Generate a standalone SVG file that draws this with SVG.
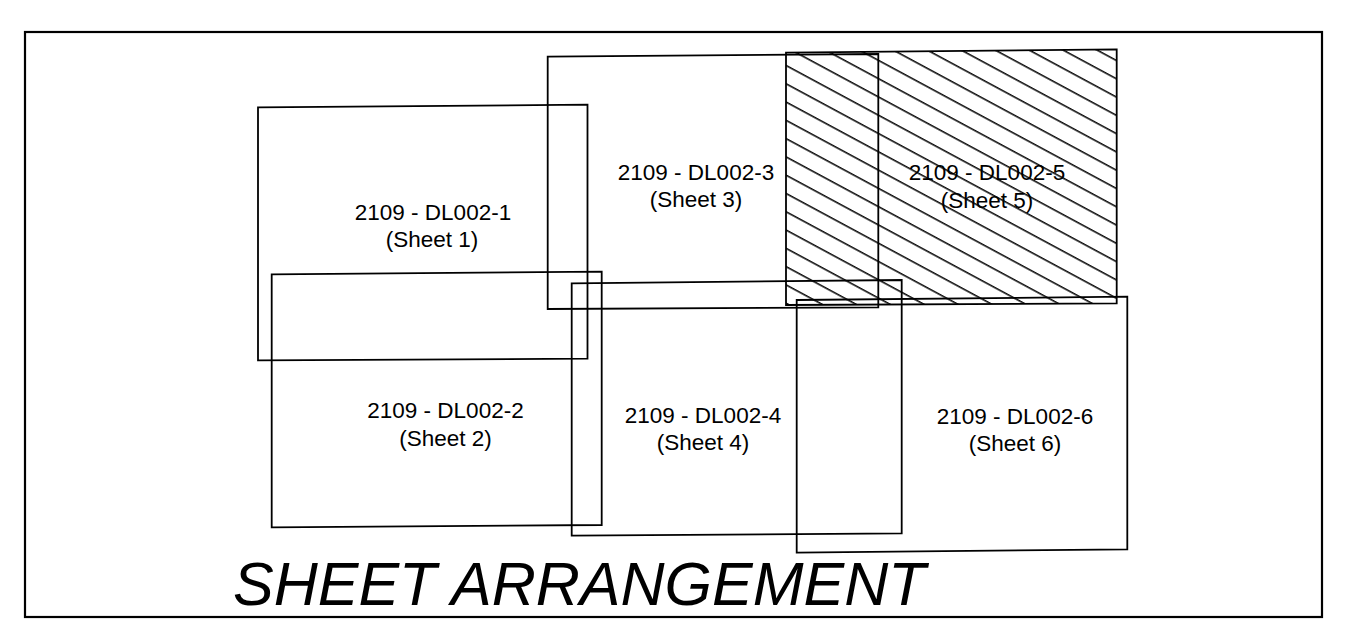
<svg xmlns="http://www.w3.org/2000/svg" width="1348" height="637" viewBox="0 0 1348 637">
<style>
.sheet{fill:none;stroke:#000;stroke-width:1.8;stroke-linejoin:miter}
.lbl{font-family:"Liberation Sans",Arial,sans-serif;font-size:22.5px;fill:#000;text-anchor:middle}
.title{font-family:"Liberation Sans",Arial,sans-serif;font-size:61px;font-style:italic;fill:#000}
</style>
<defs>
<pattern id="hatch" patternUnits="userSpaceOnUse" width="20" height="16.1" patternTransform="translate(786,64.5) rotate(28.3)">
<line x1="-5" y1="0.8" x2="25" y2="0.8" stroke="#000" stroke-width="1.5"/>
</pattern>
</defs>
<rect x="0" y="0" width="1348" height="637" fill="#fff"/>
<rect id="border" x="25" y="32" width="1297" height="585" fill="none" stroke="#000" stroke-width="2.2"/>
<g id="connectors"/>
<g id="sheet1">
<polygon class="sheet" points="258,107.3 587.5,104.7 587.5,358.7 258,360.3"/>
<text class="lbl" x="433" y="220">2109 - DL002-1</text>
<text class="lbl" x="432" y="247">(Sheet 1)</text>
</g>
<g id="sheet2">
<polygon class="sheet" points="271.7,274.3 601.7,271.7 601.7,525 271.7,527.3"/>
<text class="lbl" x="445.5" y="418">2109 - DL002-2</text>
<text class="lbl" x="445.5" y="446">(Sheet 2)</text>
</g>
<g id="sheet3">
<polygon class="sheet" points="547.7,56.7 878.3,54 878.3,307.3 547.7,309"/>
<text class="lbl" x="696" y="180">2109 - DL002-3</text>
<text class="lbl" x="696" y="207">(Sheet 3)</text>
</g>
<g id="sheet5">
<polygon points="786,52.7 1116.7,49.3 1116.7,303.3 786,305" fill="url(#hatch)" stroke="none"/>
<polygon class="sheet" points="786,52.7 1116.7,49.3 1116.7,303.3 786,305"/>
<text class="lbl" x="987" y="180">2109 - DL002-5</text>
<text class="lbl" x="987" y="208">(Sheet 5)</text>
</g>
<g id="sheet4">
<polygon class="sheet" points="571.7,283.3 901.7,280 901.7,533.3 571.7,535.7"/>
<text class="lbl" x="703" y="423">2109 - DL002-4</text>
<text class="lbl" x="703" y="450">(Sheet 4)</text>
</g>
<g id="sheet6">
<polygon class="sheet" points="796.7,300 1127.3,296.7 1127.3,549.3 796.7,552.7"/>
<text class="lbl" x="1015" y="424">2109 - DL002-6</text>
<text class="lbl" x="1015" y="451">(Sheet 6)</text>
</g>
<text id="title" class="title" x="233" y="605">SHEET ARRANGEMENT</text>
</svg>
